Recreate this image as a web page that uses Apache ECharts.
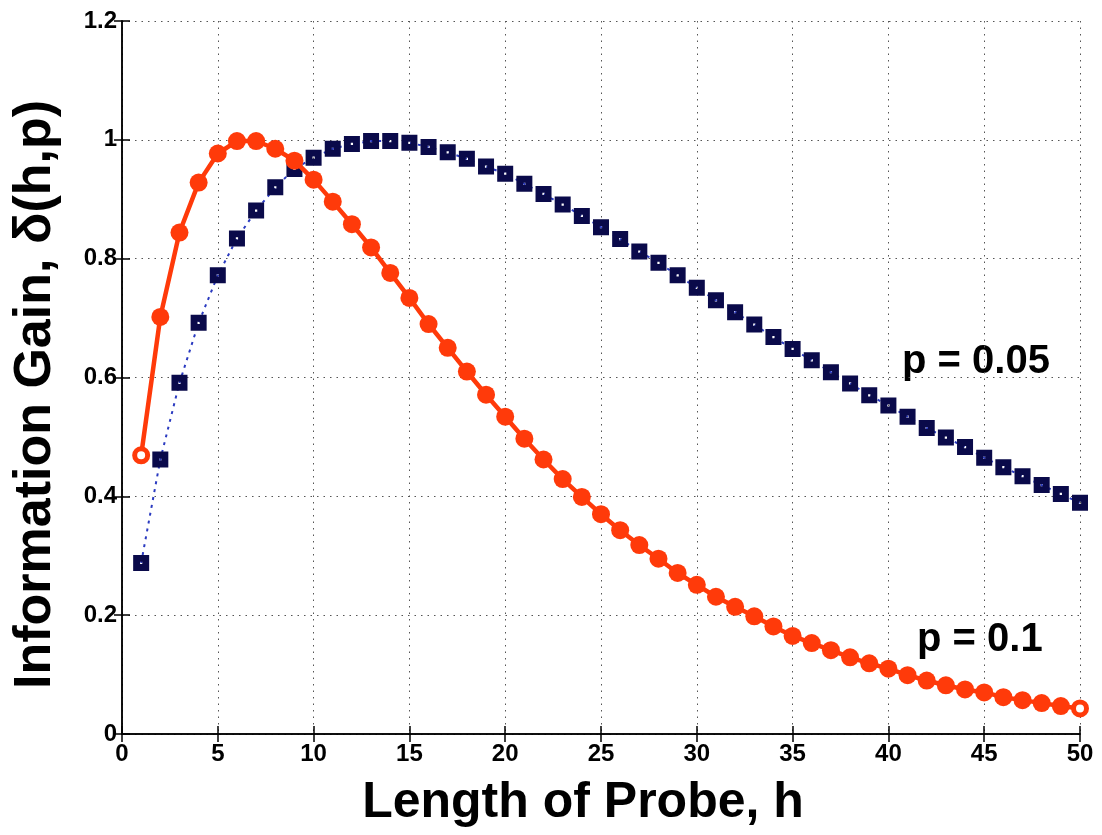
<!DOCTYPE html>
<html><head><meta charset="utf-8">
<script src="https://cdn.jsdelivr.net/npm/echarts@6/dist/echarts.min.js"></script>
<style>html,body{margin:0;padding:0;background:#fff}#c{width:1102px;height:835px}</style>
</head><body><div id="c"></div>
<script>
const hValues = Array.from({length: 50}, (_, i) => i + 1);
const gainP010 = [0.469,0.702,0.844,0.928,0.977,0.998,0.998,0.985,0.965,0.933,
  0.896,0.858,0.819,0.776,0.734,0.690,0.650,0.610,0.571,0.534,
  0.497,0.462,0.429,0.399,0.370,0.343,0.318,0.295,0.271,0.251,
  0.231,0.214,0.198,0.181,0.165,0.153,0.141,0.129,0.119,0.110,
  0.099,0.090,0.082,0.075,0.070,0.062,0.057,0.052,0.047,0.043];
const gainP005 = [0.288,0.462,0.591,0.692,0.772,0.834,0.881,0.920,0.951,0.970,
  0.985,0.993,0.998,0.998,0.995,0.988,0.979,0.968,0.955,0.943,
  0.926,0.909,0.891,0.872,0.853,0.833,0.812,0.793,0.772,0.751,
  0.730,0.710,0.689,0.668,0.648,0.629,0.609,0.590,0.570,0.553,
  0.534,0.515,0.499,0.483,0.465,0.449,0.434,0.419,0.404,0.389];
const xTicks = [0,5,10,15,20,25,30,35,40,45,50];
const yTicks = [0,0.2,0.4,0.6,0.8,1,1.2];
const labels = {p005: 'p = 0.05', p010: 'p = 0.1'};

const FONT = '"Liberation Sans", Arial, Helvetica, sans-serif';
const RED = '#ff3a0a';
const NAVY = '#0a0a4a';

const redData = gainP010.map((v, i) => {
  const d = {value: [hValues[i], v]};
  if (i === 0 || i === gainP010.length - 1) {
    d.itemStyle = {color: '#ffffff', borderColor: RED, borderWidth: 5};
    d.symbolSize = 13;
  }
  return d;
});
const blueData = gainP005.map((v, i) => [hValues[i], v]);

const chart = echarts.init(document.getElementById('c'), null, {renderer: 'canvas'});
const axisCommon = {
  axisLine: {show: true, lineStyle: {color: '#000', width: 1.5}},
  axisTick: {show: true, inside: true, length: 8, lineStyle: {color: '#000', width: 1.5}},
};
chart.setOption({
  animation: false,
  backgroundColor: '#ffffff',
  grid: {left: 122, right: 22, top: 21, bottom: 101},
  xAxis: [{
    type: 'value', min: 0, max: 50, interval: 5, position: 'bottom',
    ...axisCommon,
    axisLabel: {fontFamily: FONT, fontWeight: 'bold', fontSize: 24, color: '#000', margin: 8,
      formatter: v => xTicks.includes(v) ? String(v) : ''},
    splitLine: {show: true, lineStyle: {color: '#555', width: 1, type: [1.5, 5]}},
    name: 'Length of Probe, h', nameLocation: 'middle', nameGap: 44,
    nameTextStyle: {fontFamily: FONT, fontWeight: 'bold', fontSize: 50, color: '#000',
      padding: [0, 36, 0, 0]}
  }, {
    type: 'value', min: 0, max: 50, interval: 5, position: 'top',
    ...axisCommon, axisLabel: {show: false}, splitLine: {show: false}
  }],
  yAxis: [{
    type: 'value', min: 0, max: 1.2, interval: 0.2, position: 'left',
    ...axisCommon,
    axisLabel: {fontFamily: FONT, fontWeight: 'bold', fontSize: 24, color: '#000', margin: 5,
      formatter: v => { const t = yTicks.find(x => Math.abs(x - v) < 1e-9); return t === undefined ? '' : String(t); }},
    splitLine: {show: true, lineStyle: {color: '#555', width: 1, type: [1.5, 5]}},
    name: 'Information Gain, \u03b4(h,p)', nameLocation: 'middle', nameGap: 60,
    nameTextStyle: {fontFamily: FONT, fontWeight: 'bold', fontSize: 52, color: '#000',
      padding: [0, 34, 0, 0]}
  }, {
    type: 'value', min: 0, max: 1.2, interval: 0.2, position: 'right',
    ...axisCommon, axisLabel: {show: false}, splitLine: {show: false}
  }],
  series: [{
    name: labels.p005, type: 'line', data: blueData,
    symbol: 'path://M0,0H10V10H0Z M4.3,4.3V5.7H5.7V4.3Z', symbolSize: 16,
    lineStyle: {color: '#2a3ac0', width: 2, type: [3, 5]},
    itemStyle: {color: NAVY}, z: 3
  }, {
    name: labels.p010, type: 'line', data: redData,
    symbol: 'circle', symbolSize: 18,
    lineStyle: {color: RED, width: 4.5},
    itemStyle: {color: RED}, z: 4
  }],
  graphic: [{
    type: 'text', left: 902, top: 342,
    style: {text: labels.p005, font: 'bold 40px ' + FONT, fill: '#000'}
  }, {
    type: 'text', left: 917, top: 620,
    style: {text: labels.p010, font: 'bold 40px ' + FONT, fill: '#000'}
  }]
});
</script></body></html>
